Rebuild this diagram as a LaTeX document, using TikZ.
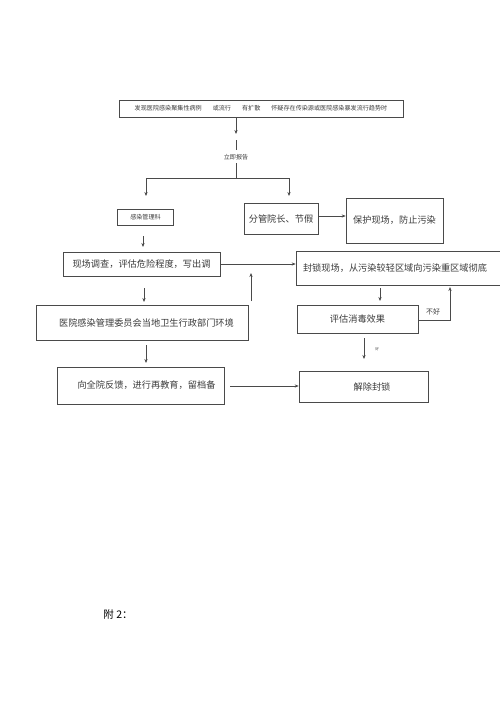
\documentclass[tikz,border=0pt]{standalone}
\usepackage{fontspec}
\usepackage{tikz}
\usepackage{xcolor}
\usetikzlibrary{arrows.meta, positioning, calc}
\newfontfamily\cjk{Noto Sans CJK SC}
\definecolor{LineGray}{HTML}{4A4A4A}
\definecolor{InkGray}{HTML}{3A3A3A}

\begin{document}
\begin{tikzpicture}[x=1pt, y=-1pt,
    box/.style={draw=LineGray, line width=0.6pt, inner sep=0pt, text=InkGray,
                font=\cjk\fontsize{9.2}{11}\selectfont},
    tinybox/.style={box, font=\cjk\fontsize{6.1}{7}\selectfont},
    note/.style={text=InkGray, inner sep=0pt, font=\cjk\fontsize{6.1}{7}\selectfont},
    flow/.style={draw=LineGray, line width=0.6pt, -{Stealth[length=4pt, width=3.2pt]}},
    link/.style={draw=LineGray, line width=0.6pt}]
\useasboundingbox (0,0) rectangle (500,707);

% top report box
\node[tinybox, minimum width=284pt, minimum height=17pt] (report) at (261,108.5)
    {发现医院感染聚集性病例\hspace{11pt}或流行\hspace{11pt}有扩散\hspace{11pt}怀疑存在传染源或医院感染暴发流行趋势时};
\coordinate (r1) at (236,134);
\coordinate (r2) at (236,140);
\coordinate (r3) at (236,150);
\node[note] (notify) at (236,157) {立即报告};
\coordinate (s0) at (236,163);
\coordinate (s1) at (236,178);
\coordinate (sl) at (146,178);
\coordinate (sr) at (289,178);
\coordinate (tl) at (146,196);
\coordinate (tr) at (289,196);
\draw[flow] (236,117) -- (r1);
\draw[link] (r2) -- (r3);
\draw[link] (s0) -- (s1);
\draw[link] (sl) -- (sr);
\draw[flow] (sl) -- (tl);
\draw[flow] (sr) -- (tr);

% second row
\node[tinybox, minimum width=56pt, minimum height=16pt, text depth=-2pt] (office) at (145.5,217) {感染管理科};
\node[box, minimum width=74pt, minimum height=31pt] (leader) at (281,218.5) {分管院长、节假};
\node[box, minimum width=97pt, minimum height=45pt] (protect) at (394.5,220.5) {保护现场，防止污染};
\draw[flow] (leader.east |- 0,216) -- (protect.west |- 0,216);

% left column
\node[box, minimum width=157pt, minimum height=24pt] (survey) at (141.5,264) {现场调查，评估危险程度，写出调};
\node[box, minimum width=212pt, minimum height=35pt] (committee) at (142,322.5) {\hspace{9pt}医院感染管理委员会当地卫生行政部门环境};
\node[box, minimum width=167pt, minimum height=37pt] (feedback) at (140.5,385.5) {\hspace{12pt}向全院反馈，进行再教育，留档备};
\draw[flow] (143,236) -- (143,247);
\draw[flow] (144,288) -- (144,302);
\draw[flow] (146,345) -- (146,363);
\draw[flow] (251,301) -- (251,273);

% right column
\node[box, minimum width=214pt, minimum height=34pt, text width=200pt, align=left] (seal) at (403,268)
    {封锁现场，从污染较轻区域向污染重区域彻底};
\node[box, minimum width=121pt, minimum height=28pt] (assess) at (357.5,319) {评估消毒效果};
\node[box, minimum width=129pt, minimum height=31pt] (release) at (363.5,386.5) {\hspace{17pt}解除封锁};
\draw[flow] (survey.east) -- (seal.west |- survey.east);
\draw[flow] (380,288) -- (380,301);
\coordinate (bad) at (450,320);
\draw[flow] (assess.east |- bad) -- (bad) -- (450,287);
\node[note, font=\cjk\fontsize{7}{8}\selectfont] (badtext) at (433,312) {不好};
\draw[flow] (364,338) -- (364,359);
\node[note, font=\cjk\fontsize{3.5}{4}\selectfont] (goodtext) at (377,349) {好};
\draw[flow] (230,386) -- (release.west |- 0,386);

% appendix label
\node[text=black, inner sep=0pt, font=\cjk\fontsize{10.5}{12}\selectfont] (appendix) at (118,615) {附 2：};
\end{tikzpicture}
\end{document}
